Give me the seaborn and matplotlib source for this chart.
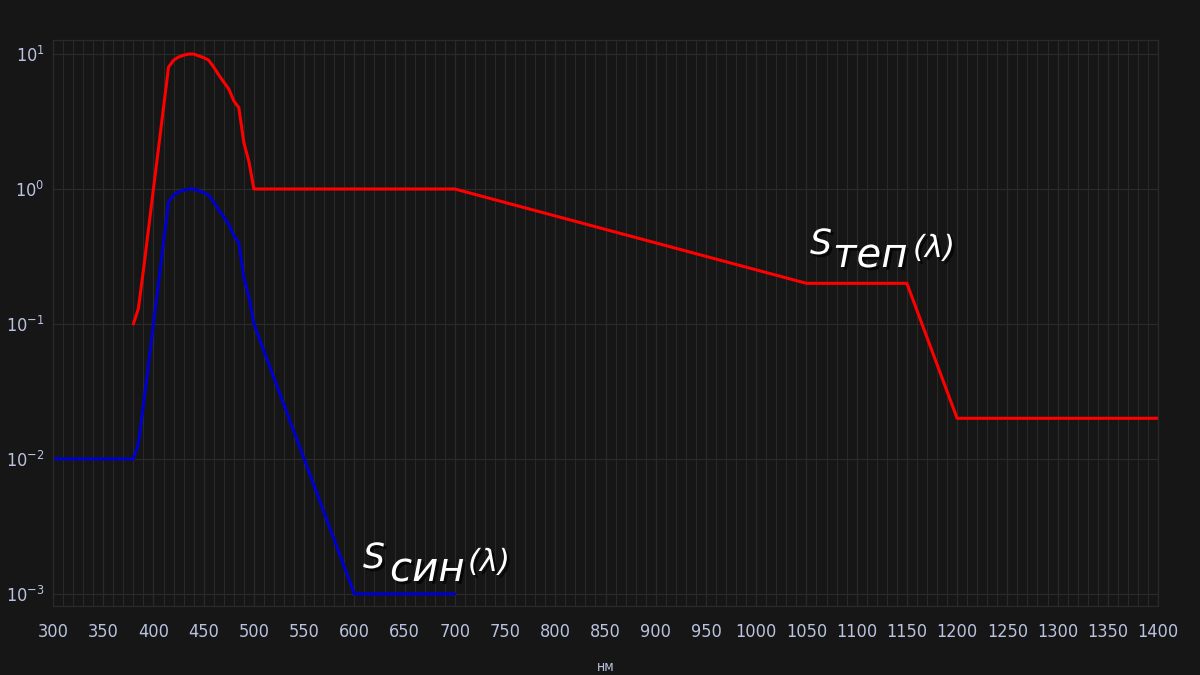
import numpy as np
import pandas as pd
import matplotlib
matplotlib.use('Agg')
import matplotlib.pyplot as plt
import matplotlib.patheffects as pe
from matplotlib.ticker import MultipleLocator, LogLocator, NullLocator
import seaborn as sns

# ==========================================
# данные: спектральные весовые функции
# ==========================================
wl_sin = [300, 380, 385, 390, 395, 400, 405, 410, 415, 420, 425, 430, 435, 440, 445,
          450, 455, 460, 465, 470, 475, 480, 485, 490, 495, 500, 600, 700]
s_sin = [0.01, 0.01, 0.013, 0.025, 0.05, 0.1, 0.2, 0.4, 0.8, 0.9, 0.95, 0.98, 1.0, 1.0, 0.97,
         0.94, 0.9, 0.8, 0.7, 0.62, 0.55, 0.45, 0.4, 0.22, 0.16, 0.1, 0.001, 0.001]

wl_tep = [380, 385, 390, 395, 400, 405, 410, 415, 420, 425, 430, 435, 440, 445,
          450, 455, 460, 465, 470, 475, 480, 485, 490, 495, 500, 700, 1050, 1150, 1200, 1400]
s_tep = [0.1, 0.13, 0.25, 0.5, 1.0, 2.0, 4.0, 8.0, 9.0, 9.5, 9.8, 10.0, 10.0, 9.7,
         9.4, 9.0, 8.0, 7.0, 6.2, 5.5, 4.5, 4.0, 2.2, 1.6, 1.0, 1.0, 0.2, 0.2, 0.02, 0.02]

x_ticks = list(range(300, 1401, 50))

df = pd.concat([
    pd.DataFrame({'нм': wl_sin, 'S': s_sin, 'кривая': 'син'}),
    pd.DataFrame({'нм': wl_tep, 'S': s_tep, 'кривая': 'теп'}),
], ignore_index=True)

# ==========================================
# стиль
# ==========================================
bg = '#161616'
grid_c = '#2a2a2a'
tick_c = '#b9c3df'

sns.set_style('dark', rc={'axes.facecolor': bg, 'figure.facecolor': bg})
plt.rcParams['font.family'] = ['DejaVu Sans']
plt.rcParams['font.stretch'] = 'condensed'
plt.rcParams['mathtext.fontset'] = 'custom'
plt.rcParams['mathtext.rm'] = 'DejaVu Sans:stretch=condensed'
plt.rcParams['axes.unicode_minus'] = False

fig = plt.figure(figsize=(12, 6.75), dpi=100)
ax = fig.add_axes([53 / 1200, 1 - 606 / 675, (1158 - 53) / 1200, (606 - 40) / 675])

sns.lineplot(data=df, x='нм', y='S', hue='кривая', palette={'син': '#0000cc', 'теп': '#ff0000'},
             linewidth=2.2, legend=False, ax=ax, sort=False, estimator=None)

ax.set_yscale('log')
ax.set_xlim(300, 1400)
ax.set_ylim(10 ** -3.09, 10 ** 1.104)

ax.set_xticks(x_ticks)
ax.xaxis.set_minor_locator(MultipleLocator(10))
ax.yaxis.set_major_locator(LogLocator(base=10, numticks=10))
ax.yaxis.set_minor_locator(NullLocator())

ax.grid(True, which='major', color=grid_c, linewidth=0.9)
ax.grid(True, which='minor', axis='x', color=grid_c, linewidth=0.7)
ax.set_axisbelow(True)

for sp in ax.spines.values():
    sp.set_visible(True)
    sp.set_color(grid_c)
    sp.set_linewidth(0.9)

ax.tick_params(axis='both', which='both', length=0, colors=tick_c, labelsize=13)
ax.tick_params(axis='x', pad=12)
ax.tick_params(axis='y', pad=6)
ax.set_xlabel('нм', color=tick_c, fontsize=10, labelpad=14)
ax.set_ylabel('')

# ==========================================
# подписи кривых
# ==========================================
shadow = [pe.withSimplePatchShadow(offset=(2, -2), shadow_rgbFace='black', alpha=0.7)]


def curve_label(x_s, y_base, sub, x_sub, x_par):
    kw = dict(style='oblique', color='white', family='DejaVu Sans', fontstretch='normal',
              va='baseline', path_effects=shadow)
    fig.text(x_s / 1200, 1 - y_base / 675, 'S', fontsize=25, **kw)
    fig.text(x_sub / 1200, 1 - (y_base + 13) / 675, sub, fontsize=29, **kw)
    fig.text(x_par / 1200, 1 - (y_base + 3) / 675, '(λ)', fontsize=22, **kw)


curve_label(810, 254, 'теп', 833, 913)
curve_label(363, 568, 'син', 390, 468)

fig.savefig('out.png', dpi=100, facecolor=bg)
